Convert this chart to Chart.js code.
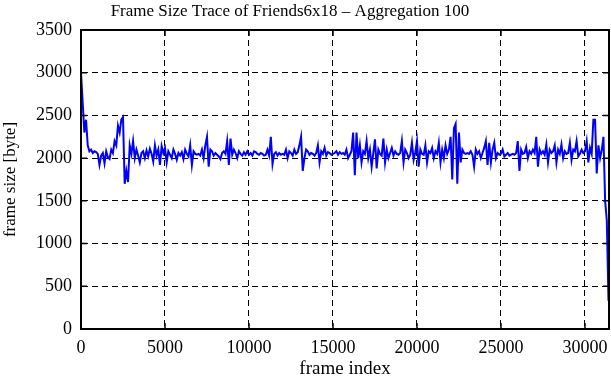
<!DOCTYPE html>
<html>
<head>
<meta charset="utf-8">
<script src="https://cdn.jsdelivr.net/npm/chart.js@4/dist/chart.umd.min.js"></script>
<style>
html,body{margin:0;padding:0;background:#fff;}
#wrap{width:611px;height:380px;}
</style>
</head>
<body>
<div id="wrap"><canvas id="c" width="611" height="380"></canvas></div>
<script>
const chartTitle = "Frame Size Trace of Friends6x18 \u2013 Aggregation 100";
const xLabel = "frame index";
const yLabel = "frame size [byte]";
const aggregation = 100;
const xTicks = [0, 5000, 10000, 15000, 20000, 25000, 30000];
const yTicks = [0, 500, 1000, 1500, 2000, 2500, 3000, 3500];
const frameSizes = [
  3000, 2650, 2300, 2450, 2150, 2080, 2100, 2060, 2080, 2070,
  2050, 1920, 2030, 2060, 1940, 2080, 2010, 1990, 2100, 2060,
  2200, 2150, 2380, 2300, 2450, 2480, 1700, 1850, 1720, 2150,
  2050, 2200, 2000, 2100, 2030, 1950, 2060, 2080, 2000, 2090,
  2020, 2110, 2050, 1960, 2150, 2030, 2100, 1920, 2140, 2060,
  2120, 1950, 2080, 2040, 2000, 2100, 2050, 1980, 2060, 2030,
  2070, 1990, 2100, 2050, 2020, 2150, 1920, 2080, 2050, 2040,
  2050, 2030, 2100, 2000, 2150, 2250, 1900, 2100, 2080, 2030,
  2060, 2040, 2020, 1990, 2060, 2080, 2050, 2200, 1920, 2230,
  2040, 2100, 2060, 2000, 2080, 2050, 2030, 2070, 2040, 2080,
  2040, 2060, 2030, 2080, 2070, 2050, 2040, 2060, 2050, 2030,
  2040, 2100, 2030, 2250, 1930, 2050, 2070, 2030, 2060, 2040,
  2050, 2040, 2100, 2000, 2080, 2060, 2030, 2100, 2050, 2070,
  2150, 2250, 1850, 2000, 2100, 2080, 2040, 2060, 2050, 2030,
  2060, 2150, 1950, 2080, 2050, 2120, 2030, 2070, 2060, 2040,
  2050, 2060, 2080, 2040, 2070, 2050, 2060, 2040, 2100, 2000,
  2040, 2080, 2300, 1800, 2300, 2000, 2150, 1950, 2080, 2050,
  2200, 2000, 2100, 1900, 2060, 2220, 1880, 2100, 2050, 2030,
  2230, 1950, 2100, 2000, 2060, 2120, 2030, 2080, 2050, 2040,
  2060, 2200, 1950, 2100, 2060, 2000, 2040, 2180, 1980, 2070,
  2200, 1900, 2100, 2050, 2040, 2150, 1950, 2080, 2060, 2120,
  2000, 2080, 2050, 2180, 1950, 2100, 2000, 2150, 2050, 2100,
  2250, 1750, 2350, 2400, 1700, 2300, 1950, 2100, 2060, 2050,
  2060, 2050, 2080, 2040, 1900, 2100, 2050, 2080, 2000, 2060,
  2120, 2200, 1920, 2180, 1950, 2100, 2180, 2000, 2060, 2040,
  2050, 2100, 2020, 2040, 2060, 2030, 2040, 2050, 2040, 2060,
  2200, 1850, 2100, 2050, 2060, 2130, 2000, 2080, 2050, 2100,
  2060, 2250, 1900, 2100, 2050, 2080, 2040, 2160, 1950, 2100,
  2060, 2080, 2150, 1950, 2100, 2050, 2160, 2000, 2080, 2050,
  2060, 2180, 1980, 2100, 2080, 2200, 2020, 2050, 2100, 2060,
  2080, 2200, 1950, 2120, 2050, 2450, 2450, 1820, 2150, 2000,
  2100, 2250, 1500, 1270, 330
];
const points = frameSizes.map((v, i) => ({x: i * aggregation, y: v}));

const FONT = "'Liberation Serif', 'DejaVu Serif', serif";

const frameAndTitle = {
  id: 'frameAndTitle',
  afterDatasetsDraw(chart) {
    const {ctx, chartArea: a, scales: {x, y}} = chart;
    ctx.save();
    ctx.strokeStyle = '#000';
    ctx.lineWidth = 1.5;
    ctx.beginPath();
    yTicks.forEach(v => {
      const py = y.getPixelForValue(v);
      ctx.moveTo(a.left, py); ctx.lineTo(a.left + 6, py);
      ctx.moveTo(a.right, py); ctx.lineTo(a.right - 6, py);
    });
    xTicks.forEach(v => {
      const px = x.getPixelForValue(v);
      ctx.moveTo(px, a.bottom); ctx.lineTo(px, a.bottom - 6);
      ctx.moveTo(px, a.top); ctx.lineTo(px, a.top + 6);
    });
    ctx.stroke();
    ctx.lineWidth = 2;
    ctx.strokeRect(a.left, a.top, a.right - a.left, a.bottom - a.top);
    ctx.fillStyle = '#000';
    ctx.font = "17px " + FONT;
    ctx.textAlign = 'center';
    ctx.textBaseline = 'middle';
    ctx.fillText(chartTitle, 290, 12);
    ctx.restore();
  }
};

new Chart(document.getElementById('c'), {
  type: 'line',
  data: {
    datasets: [{
      data: points,
      borderColor: '#0000ff',
      borderWidth: 2,
      pointRadius: 0,
      tension: 0,
      fill: false
    }]
  },
  options: {
    responsive: false,
    animation: false,
    layout: {padding: {left: 0, right: 2, top: 30, bottom: 0}},
    plugins: {
      legend: {display: false},
      tooltip: {enabled: false},
      title: {display: false}
    },
    scales: {
      x: {
        type: 'linear',
        min: 0, max: 31430,
        afterBuildTicks: s => { s.ticks = xTicks.map(v => ({value: v})); },
        afterFit: s => { s.height = 51; s.paddingLeft = 0; s.paddingRight = 0; },
        grid: {color: '#000', lineWidth: 1, drawTicks: false, tickLength: 0},
        border: {display: true, color: '#000', width: 2, dash: [6, 4]},
        ticks: {color: '#000', font: {family: FONT, size: 18}, padding: 8, maxRotation: 0, autoSkip: false,
                callback: v => String(v)},
        title: {display: true, text: xLabel, color: '#000', font: {family: FONT, size: 19}, padding: {top: 3, bottom: 0}}
      },
      y: {
        min: 0, max: 3500,
        afterBuildTicks: s => { s.ticks = yTicks.map(v => ({value: v})); },
        afterFit: s => { s.width = 81; s.paddingTop = 0; s.paddingBottom = 0; },
        grid: {color: '#000', lineWidth: 1, drawTicks: false, tickLength: 0},
        border: {display: true, color: '#000', width: 2, dash: [6, 4]},
        ticks: {color: '#000', font: {family: FONT, size: 18}, padding: 9, callback: v => String(v)},
        title: {display: true, text: yLabel, color: '#000', font: {family: FONT, size: 17}, padding: {top: 0, bottom: 2}}
      }
    }
  },
  plugins: [frameAndTitle]
});
</script>
</body>
</html>
